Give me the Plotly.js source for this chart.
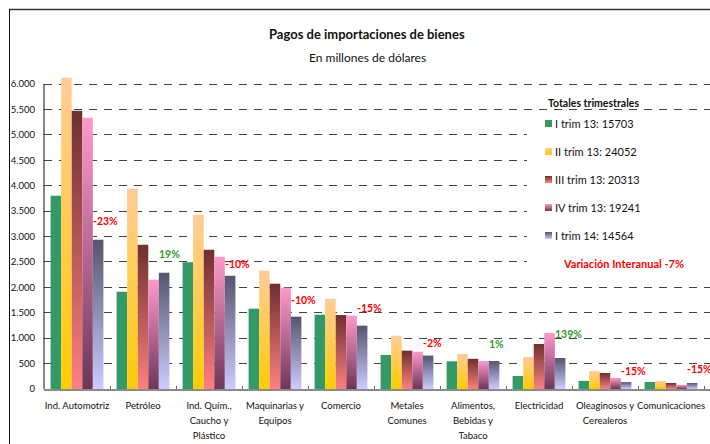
<!DOCTYPE html>
<html><head><meta charset="utf-8">
<script src="https://cdn.plot.ly/plotly-3.0.1.min.js"></script>
<style>html,body{margin:0;padding:0;overflow:hidden;background:#fff}#chart{width:720px;height:444px}</style>
</head><body><div id="chart"></div>
<script>
// ---- data ----
const categories = ["Ind. Automotriz","Petróleo","Ind. Quím.,<br>Caucho y<br>Plástico","Maquinarias y<br>Equipos","Comercio","Metales<br>Comunes","Alimentos,<br>Bebidas y<br>Tabaco","Electricidad","Oleaginosos y<br>Cerealeros","Comunicaciones"];
const seriesNames = ["I trim 13: 15703","II trim 13: 24052","III trim 13: 20313","IV trim 13: 19241","I trim 14: 14564"];
const q1_13 = [3804,1915,2492,1580,1462,670,545,256,160,140];
const q2_13 = [6125,3941,3430,2328,1777,1049,692,630,354,157];
const q3_13 = [5476,2840,2741,2072,1455,754,594,885,315,118];
const q4_13 = [5338,2151,2604,1994,1443,734,551,1102,216,79];
const q1_14 = [2938,2289,2230,1423,1246,657,551,610,136,119];
const variation = ["-23%","19%","-10%","-10%","-15%","-2%","1%","139%","-15%","-15%"];
const legendTitle = "Totales trimestrales";
const totalVariation = "Variación Interanual -7%";
const chartTitle = "Pagos de importaciones de bienes";
const chartSubtitle = "En millones de dólares";

// ---- styling ----
const FONT = 'Lato, "Open Sans", "DejaVu Sans", sans-serif';
const baseColors = ['#339966','#FFCC66','#B65858','#B66991','#9090B6'];
const gradients = [null,
  ['#FFCC99','#FFCC00'],
  ['#6E3030','#FF8080'],
  ['#FF99CC','#6E3656'],
  ['#55556E','#CCCCFF']];
const series = [q1_13,q2_13,q3_13,q4_13,q1_14];
const labelLift = [19,19,12,17,18,13,17,24,11,14];

const traces = series.map((vals,i)=>({
  type:'bar', x:categories, y:vals, name:seriesNames[i],
  legendgroup:'g'+i,
  marker:{color:baseColors[i], line:{width:0}},
  hoverinfo:'skip'
}));

const TOP=76, BOT=389, H=BOT-TOP;
const px = v => (v-44)/670;      // pixel x -> paper
const py = v => (BOT-v)/H;       // pixel y -> paper

const annotations = [
  {xref:'paper',yref:'paper',x:px(367),y:py(34),xanchor:'center',yanchor:'middle',text:'<b>'+chartTitle+'</b>',showarrow:false,font:{size:13,color:'#111'}},
  {xref:'paper',yref:'paper',x:px(367),y:py(57),xanchor:'center',yanchor:'middle',text:chartSubtitle,showarrow:false,font:{size:12,color:'#111'}},
  {xref:'paper',yref:'paper',x:px(593.5),y:py(102.5),xanchor:'center',yanchor:'middle',text:'<b>'+legendTitle+'</b>',showarrow:false,font:{size:10.5,color:'#111'}},
  {xref:'paper',yref:'paper',x:px(623),y:py(263),xanchor:'center',yanchor:'middle',text:'<b>'+totalVariation+'</b>',showarrow:false,font:{size:11,color:'#FF0000'}}
];
variation.forEach((t,i)=>{
  annotations.push({xref:'x',yref:'y',x:categories[i],y:q1_14[i],xanchor:'left',yanchor:'middle',xshift:14,yshift:labelLift[i],
    text:'<b>'+t+'</b>',showarrow:false,font:{size:10.5,color:t.startsWith('-')?'#FF0000':'#2E9A2E'}});
});

const layout = {
  width:720, height:444,
  margin:{l:44,r:6,t:TOP,b:444-BOT,pad:0},
  paper_bgcolor:'#fff', plot_bgcolor:'rgba(0,0,0,0)',
  separators:',.',
  font:{family:FONT,size:10,color:'#111'},
  barmode:'group', bargap:0.2, bargroupgap:0,
  showlegend:true,
  legend:{x:px(515),xanchor:'left',y:py(109),yanchor:'top',bgcolor:'rgba(0,0,0,0)',
    font:{size:11,color:'#111'},tracegroupgap:9,itemclick:false,itemdoubleclick:false},
  xaxis:{type:'category',showline:true,linecolor:'#8a8a8a',linewidth:1.5,ticks:'inside',tickson:'boundaries',
    ticklen:3,tickcolor:'#666',tickwidth:1,tickangle:0,tickfont:{size:9.5,color:'#111'},ticklabelstandoff:7,showgrid:false,fixedrange:true},
  yaxis:{range:[0,6000*H/305],tickvals:[0,500,1000,1500,2000,2500,3000,3500,4000,4500,5000,5500,6000],tickformat:',d',showline:false,
    showgrid:true,gridcolor:'#444',griddash:'8px,7px',gridwidth:1,zeroline:false,ticks:'',
    tickfont:{size:9.5,color:'#111'},ticklabelstandoff:8,fixedrange:true},
  shapes:[
    {type:'rect',xref:'paper',yref:'paper',x0:px(527),x1:1.02,y0:py(280),y1:py(112),fillcolor:'#ffffff',line:{width:0},layer:'above'},
    {type:'line',xref:'paper',yref:'paper',x0:px(9),x1:1.02,y0:py(9.5),y1:py(9.5),line:{color:'#333',width:1.5}},
    {type:'line',xref:'paper',yref:'paper',x0:px(9.5),x1:px(9.5),y0:py(9.5),y1:py(450),line:{color:'#111',width:1}},
    {type:'line',xref:'paper',yref:'y',x0:0,x1:0,y0:0,y1:6000,line:{color:'#111',width:1}}
  ],
  annotations:annotations
};

Plotly.newPlot('chart',traces,layout,{displayModeBar:false,staticPlot:true}).then(gd=>{
  const ns='http://www.w3.org/2000/svg';
  const svg=gd.querySelector('svg.main-svg');
  let defs=svg.querySelector('defs');
  if(!defs){defs=document.createElementNS(ns,'defs');svg.insertBefore(defs,svg.firstChild);}
  gradients.forEach((g,i)=>{
    if(!g) return;
    const lg=document.createElementNS(ns,'linearGradient');
    lg.setAttribute('id','grad'+i);
    lg.setAttribute('x1','0');lg.setAttribute('y1','0');lg.setAttribute('x2','0');lg.setAttribute('y2','1');
    g.forEach((c,k)=>{const s=document.createElementNS(ns,'stop');s.setAttribute('offset',k/(g.length-1));s.setAttribute('stop-color',c);lg.appendChild(s);});
    defs.appendChild(lg);
  });
  gd.querySelectorAll('.trace.bars').forEach((tr,i)=>{
    if(gradients[i]) tr.querySelectorAll('path').forEach(p=>{p.style.fill='url(#grad'+i+')';});
  });
  gd.querySelectorAll('.legend .traces').forEach((tr,i)=>{
    const p=tr.querySelector('.legendpoints path');
    const t=tr.querySelector('text.legendtext');
    if(!p||!t) return;
    const pr=p.getBoundingClientRect(), trr=t.getBoundingClientRect();
    const dx=(trr.left-3-3.5)-(pr.left+pr.width/2);
    p.setAttribute('d',`M${dx+3.5},3.5H${dx-3.5}V-3.5H${dx+3.5}Z`);
    p.style.stroke='none';
    if(gradients[i]) p.style.fill='url(#grad'+i+')';
  });
  // line spacing of multi-line category labels (15px between lines)
  gd.querySelectorAll('.xtick text').forEach(tx=>{
    tx.querySelectorAll('tspan.line').forEach((ts,k)=>{ ts.setAttribute('dy',(k*15)+'px'); });
  });
});
</script></body></html>
